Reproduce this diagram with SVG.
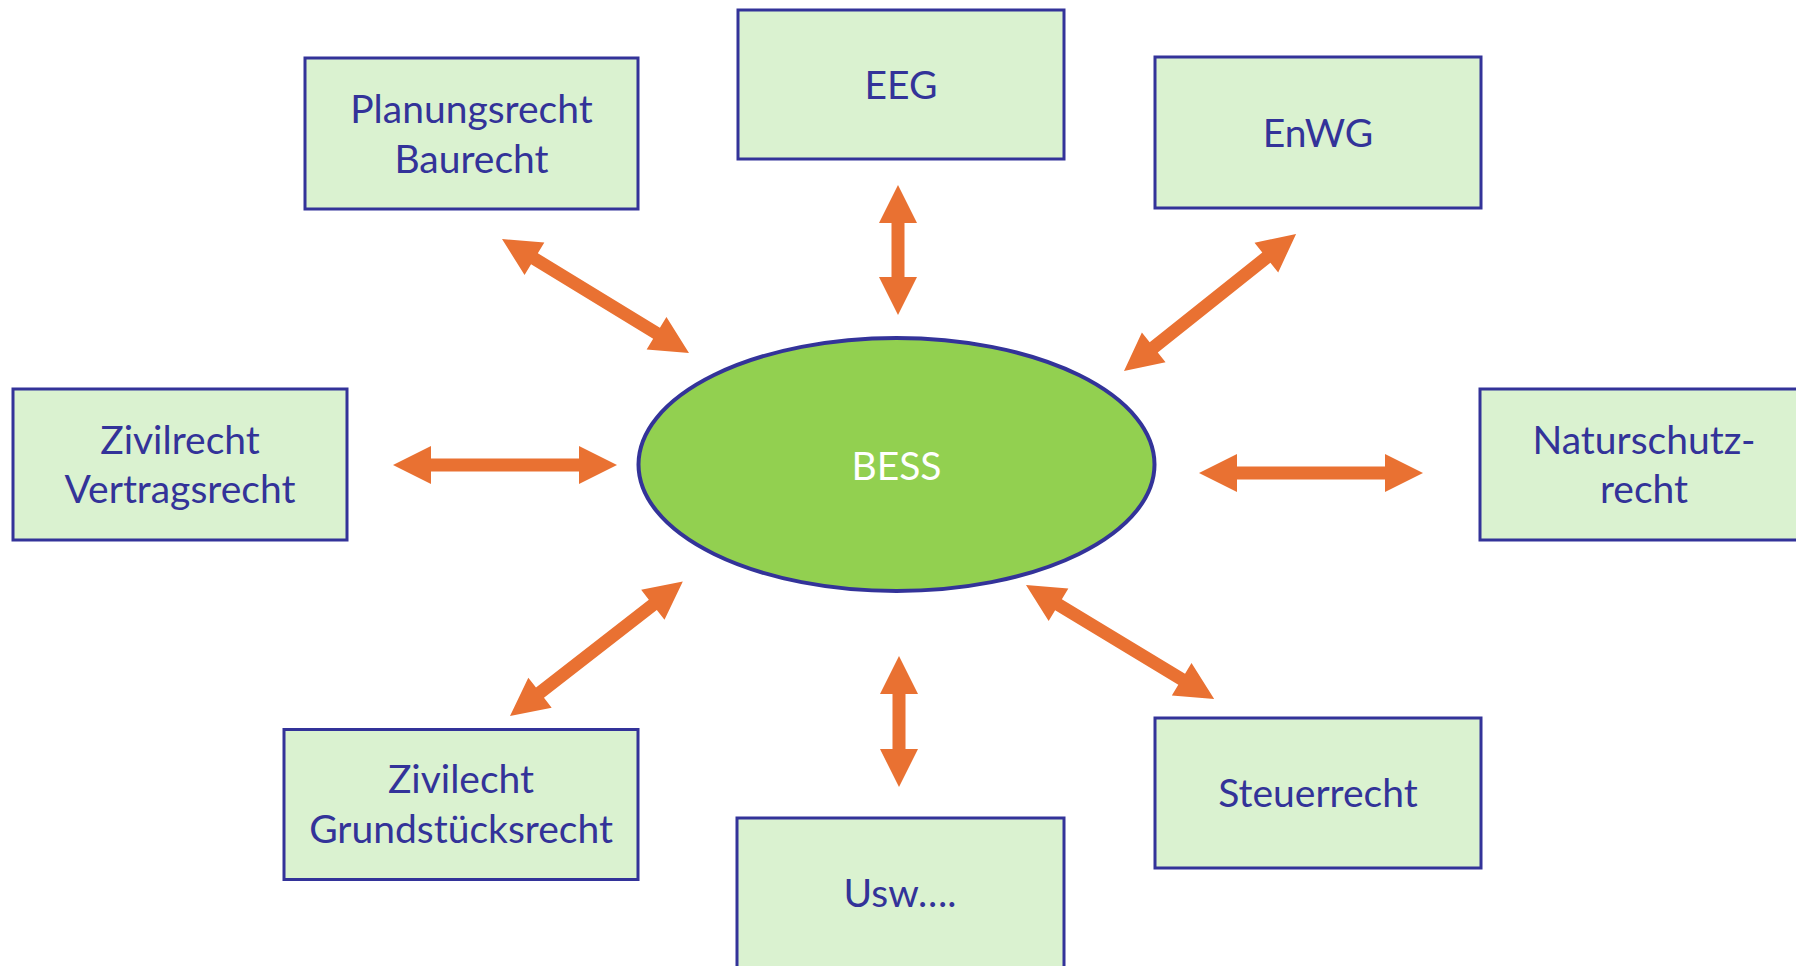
<svg xmlns="http://www.w3.org/2000/svg" width="1796" height="966" viewBox="0 0 1796 966">
<style>
.box{fill:#daf2d0;stroke:#333399;stroke-width:3}
.lbl{font-family:Lato,"Open Sans","Liberation Sans",sans-serif;font-size:39px;fill:#333399;text-anchor:middle}
.arr{fill:#e97132}
</style>
<rect width="1796" height="966" fill="#ffffff"/>
<g id="connectors">
<polygon class="arr" transform="translate(502,239) rotate(31.37)" points="0,0 38,-19 38,-6.5 181,-6.5 181,-19 219,0 181,19 181,6.5 38,6.5 38,19"/>
<polygon class="arr" transform="translate(898,185) rotate(90)" points="0,0 38,-19 38,-6.5 92,-6.5 92,-19 130,0 92,19 92,6.5 38,6.5 38,19"/>
<polygon class="arr" transform="translate(1124,371) rotate(-38.54)" points="0,0 38,-19 38,-6.5 182,-6.5 182,-19 220,0 182,19 182,6.5 38,6.5 38,19"/>
<polygon class="arr" transform="translate(393,465)" points="0,0 38,-19 38,-6.5 186,-6.5 186,-19 224,0 186,19 186,6.5 38,6.5 38,19"/>
<polygon class="arr" transform="translate(1199,473)" points="0,0 38,-19 38,-6.5 186,-6.5 186,-19 224,0 186,19 186,6.5 38,6.5 38,19"/>
<polygon class="arr" transform="translate(510,716) rotate(-37.9)" points="0,0 38,-19 38,-6.5 181,-6.5 181,-19 219,0 181,19 181,6.5 38,6.5 38,19"/>
<polygon class="arr" transform="translate(899,656) rotate(90)" points="0,0 38,-19 38,-6.5 93,-6.5 93,-19 131,0 93,19 93,6.5 38,6.5 38,19"/>
<polygon class="arr" transform="translate(1026,585) rotate(31.2)" points="0,0 38,-19 38,-6.5 182,-6.5 182,-19 220,0 182,19 182,6.5 38,6.5 38,19"/>
</g>
<g id="bess">
<ellipse cx="896.5" cy="464.5" rx="258" ry="126.5" fill="#92d050" stroke="#333399" stroke-width="4"/>
<text class="lbl" x="896.5" y="480" style="fill:#ffffff">BESS</text>
</g>
<g id="planungsrecht">
<rect class="box" x="305" y="58" width="333" height="151"/>
<text class="lbl" x="471.5" y="123">Planungsrecht</text>
<text class="lbl" x="471.5" y="173">Baurecht</text>
</g>
<g id="eeg">
<rect class="box" x="738" y="10" width="326" height="149"/>
<text class="lbl" x="901" y="99">EEG</text>
</g>
<g id="enwg">
<rect class="box" x="1155" y="57" width="326" height="151"/>
<text class="lbl" x="1318" y="147">EnWG</text>
</g>
<g id="zivilrecht">
<rect class="box" x="13" y="389" width="334" height="151"/>
<text class="lbl" x="180" y="454">Zivilrecht</text>
<text class="lbl" x="180" y="503">Vertragsrecht</text>
</g>
<g id="naturschutzrecht">
<rect class="box" x="1480" y="389" width="330" height="151"/>
<text class="lbl" x="1644" y="454">Naturschutz-</text>
<text class="lbl" x="1644" y="503">recht</text>
</g>
<g id="zivilecht">
<rect class="box" x="284" y="729.5" width="354" height="150"/>
<text class="lbl" x="461" y="793">Zivilecht</text>
<text class="lbl" x="461" y="843">Grundstücksrecht</text>
</g>
<g id="usw">
<rect class="box" x="737" y="818" width="327" height="170"/>
<text class="lbl" x="900" y="907">Usw….</text>
</g>
<g id="steuerrecht">
<rect class="box" x="1155" y="718" width="326" height="150"/>
<text class="lbl" x="1318" y="807">Steuerrecht</text>
</g>
</svg>
